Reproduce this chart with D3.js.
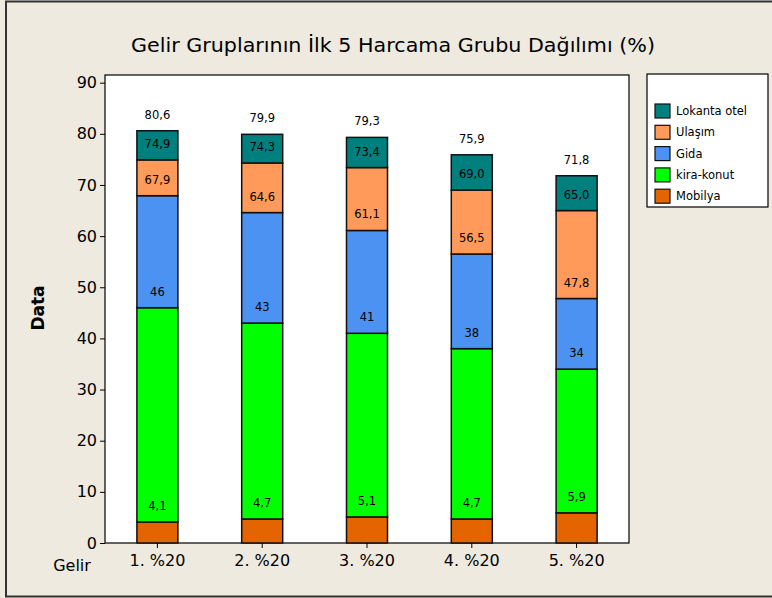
<!DOCTYPE html>
<html>
<head>
<meta charset="utf-8">
<script src="https://cdn.jsdelivr.net/npm/d3@7"></script>
<style>
  body { margin: 0; background: #eeeae0; }
  svg { display: block; }
  text { font-family: "DejaVu Sans", sans-serif; fill: #000; }
</style>
</head>
<body>
<div id="chart"></div>
<script>
// Data (cumulative tops of each segment, as labelled in the chart)
var gruplar = ["1. %20", "2. %20", "3. %20", "4. %20", "5. %20"];
var mobilya = [4.1, 4.7, 5.1, 4.7, 5.9];
var kiraKonut = [46, 43, 41, 38, 34];
var gida = [67.9, 64.6, 61.1, 56.5, 47.8];
var ulasim = [74.9, 74.3, 73.4, 69.0, 65.0];
var lokanta = [80.6, 79.9, 79.3, 75.9, 71.8];
var ondalik = [1, 0, 1, 1, 1];
var yTicks = [0, 10, 20, 30, 40, 50, 60, 70, 80, 90];
var legendAd = ["Mobilya", "kira-konut", "Gida", "Ulaşım", "Lokanta otel"];

var kumulatif = [mobilya, kiraKonut, gida, ulasim, lokanta];
var renkler = ["#e46400", "#00ff00", "#4c92f2", "#ff9a5a", "#007f7f"];
var legendSira = [4, 3, 2, 1, 0];

var svgWidth = 772, svgHeight = 598;
var margin = { top: 75, right: 143, bottom: 55, left: 105 };
var width = svgWidth - margin.left - margin.right;
var height = svgHeight - margin.top - margin.bottom;

var svg = d3.select("#chart").append("svg")
    .attr("width", svgWidth)
    .attr("height", svgHeight);

// dış çerçeve
svg.append("rect")
    .attr("x", 6).attr("y", 1.5)
    .attr("width", 780).attr("height", 595)
    .attr("fill", "#eeeae0")
    .attr("stroke", "#333")
    .attr("stroke-width", 2);

var x = d3.scaleBand().domain(gruplar).range([0, width]).padding(0);
var y = d3.scaleLinear().domain([0, 91.5]).range([height, 0]);
var barW = 41;

var g = svg.append("g")
    .attr("transform", "translate(" + margin.left + "," + margin.top + ")");

g.append("rect")
    .attr("width", width).attr("height", height)
    .attr("fill", "#fff")
    .attr("stroke", "#000")
    .attr("stroke-width", 1.2);

// çubuklar
var virgul = function (v, d) { return d3.format("." + d + "f")(v).replace(".", ","); };

kumulatif.forEach(function (seri, s) {
    var alt = s > 0 ? kumulatif[s - 1] : gruplar.map(function () { return 0; });
    g.selectAll(".seg" + s)
        .data(seri)
        .enter()
        .append("rect")
        .attr("x", function (d, i) { return x(gruplar[i]) + x.bandwidth() / 2 - barW / 2; })
        .attr("y", function (d) { return y(d); })
        .attr("width", barW)
        .attr("height", function (d, i) { return y(alt[i]) - y(d); })
        .attr("fill", renkler[s])
        .attr("stroke", "#111")
        .attr("stroke-width", 1.5);
});

// etiketler
kumulatif.forEach(function (seri, s) {
    g.selectAll(".lbl" + s)
        .data(seri)
        .enter()
        .append("text")
        .text(function (d) { return virgul(d, ondalik[s]); })
        .attr("x", function (d, i) { return x(gruplar[i]) + x.bandwidth() / 2; })
        .attr("y", function (d) { return y(d) - 16; })
        .attr("text-anchor", "middle")
        .attr("dominant-baseline", "central")
        .attr("font-size", 11.5);
});

// y ekseni
var yAxis = g.append("g")
    .call(d3.axisLeft(y).tickValues(yTicks).tickSize(5).tickPadding(3));
yAxis.select(".domain").remove();
yAxis.selectAll("text").attr("font-size", 16);
yAxis.selectAll("line").attr("stroke", "#000");

// x ekseni
var xAxis = g.append("g")
    .attr("transform", "translate(0," + height + ")")
    .call(d3.axisBottom(x).tickSize(5).tickPadding(7));
xAxis.select(".domain").remove();
xAxis.selectAll("text").attr("font-size", 16);
xAxis.selectAll("line").attr("stroke", "#000");

svg.append("text")
    .text("Gelir")
    .attr("x", 72).attr("y", 565)
    .attr("text-anchor", "middle")
    .attr("dominant-baseline", "central")
    .attr("font-size", 16);

svg.append("text")
    .text("Data")
    .attr("transform", "translate(38,308) rotate(-90)")
    .attr("text-anchor", "middle")
    .attr("dominant-baseline", "central")
    .attr("font-weight", "bold")
    .attr("font-size", 17);

svg.append("text")
    .text("Gelir Gruplarının İlk 5 Harcama Grubu Dağılımı (%)")
    .attr("x", 393).attr("y", 45)
    .attr("text-anchor", "middle")
    .attr("dominant-baseline", "central")
    .attr("font-size", 20)
    .attr("textLength", 524)
    .attr("lengthAdjust", "spacingAndGlyphs");

// lejant
var leg = svg.append("g").attr("transform", "translate(647,74)");
leg.append("rect")
    .attr("width", 121).attr("height", 133)
    .attr("fill", "#fff")
    .attr("stroke", "#000")
    .attr("stroke-width", 1.2);

var item = leg.selectAll(".item")
    .data(legendSira)
    .enter()
    .append("g")
    .attr("transform", function (d, i) { return "translate(8," + (30 + i * 21.3) + ")"; });

item.append("rect")
    .attr("width", 15).attr("height", 14)
    .attr("fill", function (d) { return renkler[d]; })
    .attr("stroke", "#111")
    .attr("stroke-width", 1.2);

item.append("text")
    .text(function (d) { return legendAd[d]; })
    .attr("x", 21).attr("y", 7)
    .attr("dominant-baseline", "central")
    .attr("font-size", 11.5);
</script>
</body>
</html>
